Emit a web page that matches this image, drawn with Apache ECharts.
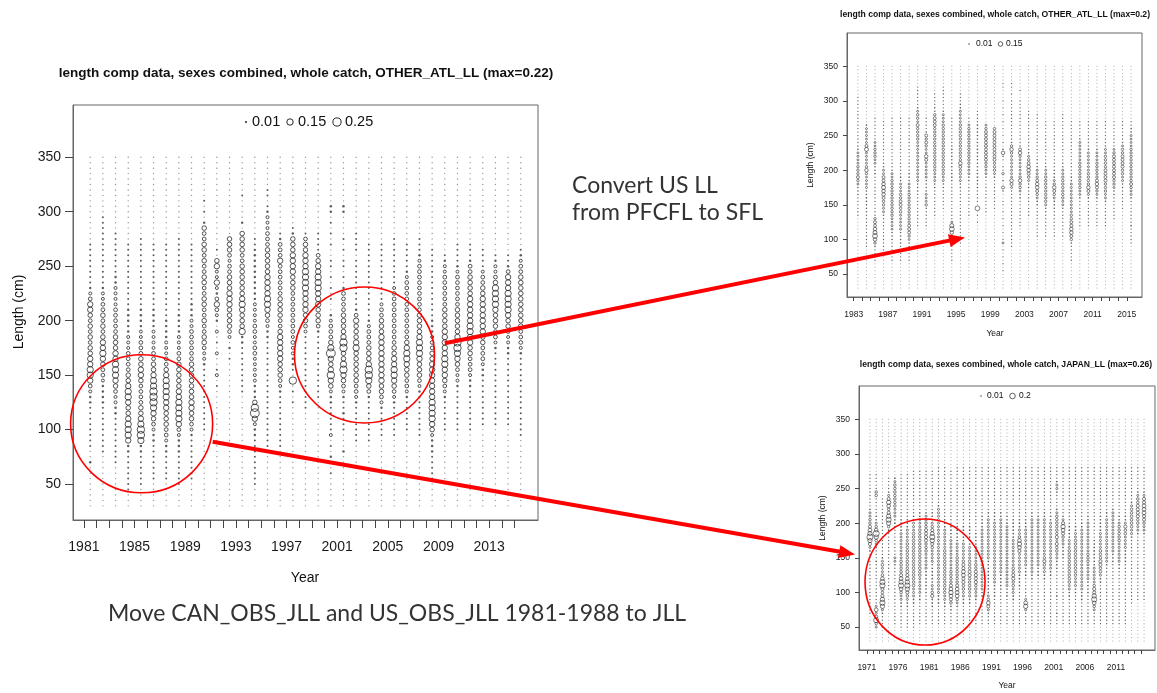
<!DOCTYPE html>
<html>
<head>
<meta charset="utf-8">
<script src="https://cdn.jsdelivr.net/npm/echarts@6/dist/echarts.min.js"></script>
<style>
  html, body { margin: 0; padding: 0; background: #fff; }
  #chart { width: 1157px; height: 693px; }
</style>
</head>
<body>
<div id="chart"></div>
<script>
// Length bins (cm), in the order the profile strings are written: top of the column (350) down to 30
const lengthBins = [350,345,340,335,330,325,320,315,310,305,300,295,290,285,280,275,270,265,260,255,
  250,245,240,235,230,225,220,215,210,205,200,195,190,185,180,175,170,165,160,155,
  150,145,140,135,130,125,120,115,110,105,100,95,90,85,80,75,70,65,60,55,50,45,40,35,30];

// Proportion code used in the profile strings ('.' = zero observations)
const proportionCode = { '.': 0, '1': 0.002, '2': 0.005, '3': 0.01, '4': 0.02, '5': 0.035,
  '6': 0.055, '7': 0.08, '8': 0.12, '9': 0.18 };

// ---- OTHER_ATL_LL, revised (max = 0.22) ----
const yearsOtherNew = [1981,1982,1983,1984,1985,1986,1987,1988,1989,1990,1991,1992,1993,1994,1995,1996,1997,1998,
  1999,2000,2001,2002,2003,2004,2005,2006,2007,2008,2009,2010,2011,2012,2013,2014,2015];
const profilesOtherNew = [
  ".......... ......1111 1111234665 4545455667 7643221111 1111..2... .....",
  ".......... .111111111 1111233445 4545667654 4322221111 11111..... .....",
  ".......... ....111111 1122333344 4445556677 7654332211 1111111... .....",
  ".......... ......1111 1111111122 2223334444 5567765567 7762211111 11...",
  ".......... .....11111 1111111122 2233444556 6544445567 8872211111 1....",
  ".......... ......1111 1111111122 2233334455 6778887654 3221111111 .....",
  ".......... ......1111 1111111111 2222333445 6777766555 4432211111 .....",
  ".......... .....11111 1111111112 2223334455 5556677776 4322211111 1....",
  ".......... ......1111 1111111222 3344444455 5555566554 3211111111 .....",
  "........1. 1.25445545 4455445544 5445543321 1111111111 1......... .....",
  ".......... .......1.5 6336324643 2.3.1.3..1 3.1....... .......... .....",
  ".......... .....55543 4455566655 5543.2.1.. .......... .......... .....",
  ".......1.. ..2.555544 5555556765 5572211111 1111...... .......... .....",
  ".......... .....11222 2222222333 3443344333 3322258963 2211111111 1....",
  "......11.1 2333444555 5566667765 4322111111 1111111111 1111...... .....",
  ".......... ....124446 4444445555 4456666655 5432111111 1111...... .....",
  ".......... ...1255566 6655544444 4443433221 .8.1.1.... .......... .....",
  ".......... ....145566 6777766665 5431111111 1111111... .......... .....",
  ".......... ....111145 6677766655 5421111111 11111..... .......... .....",
  ".........2 2.1.1.1..1 1.1.1.1..2 3444579656 8653221111 13.1.2..1. .....",
  ".........2 2....1.1.1 1.1.244445 5556885578 6543211211 1...2..... .....",
  ".......... ....1111.1 1111111124 6555675555 5544321111 111....... .....",
  ".......... ......1111 1111111111 2344455568 8754211111 111....... .....",
  ".......... ......1111 1111111344 5556666666 6655432111 11........ .....",
  ".......... .....11111 1111344444 4444455667 7654321111 11........ .....",
  ".......... ......1111 1234444444 4444567765 5443211111 1......... .....",
  ".......... .....11123 4444444445 5556777655 5432111111 11........ .....",
  ".......... .......111 1111111111 2223445566 6666677776 5322211111 .....",
  ".......... ........12 3344444455 5566666776 6543211111 1......... .....",
  ".......... ......1111 2344444455 5556887654 3321111111 1......... .....",
  ".......... ......1112 4455556666 6776655444 3221111111 1......... .....",
  ".......... .......111 1344556666 6665544432 2111111111 .......... .....",
  ".......... ........12 3345777765 5544321111 1111111111 .......... .....",
  ".......... ........11 2466677776 5543322111 1111111111 .......... .....",
  ".......... .......123 4455555555 5544432111 1111111111 11........ ....."
];
const yearLabelsOtherNew = [1981,1985,1989,1993,1997,2001,2005,2009,2013];

// ---- OTHER_ATL_LL, previous (max = 0.2) ----
const yearsOtherOld = [1983,1984,1985,1986,1987,1988,1989,1990,1991,1992,1993,1994,1995,1996,1997,1998,1999,
  2000,2001,2002,2003,2004,2005,2006,2007,2008,2009,2010,2011,2012,2013,2014,2015];
const profilesOtherOld = [
  ".........1 1111111111 1112233334 4454322211 1111...... .......... .....",
  ".......... .......233 3335733334 6433332222 2221111111 111....... .....",
  ".......... .....11111 1133444332 2211111111 1111455678 6421111... .....",
  ".......... ......1111 1111111122 3355676654 4332111111 1111...... .....",
  ".......... .....11111 1111111111 2334444444 4444333322 2111111... .....",
  ".......... .....11111 1111111111 1122333445 5443333322 2211111... .....",
  ".......... .....11111 1111111111 1222333444 4444445554 3211111... .....",
  "......1111 1123443544 4433333333 3333222111 1111111... .......... .....",
  ".......... .....11112 5454336533 3332222333 4211111... .......... .....",
  "........11 1122455544 4444444444 4333221111 1111...... .......... .....",
  "......1111 1112333444 4444444444 4433221111 11........ .......... .....",
  ".......... .....11111 1112222222 2222111111 1111137863 2111111... .....",
  "........11 1223333444 4444444465 4433221111 1111111111 11........ .....",
  ".......... .....11344 4444444443 3322111111 1111...... .......... .....",
  ".......... ...1111222 2222222222 2222221111 .8.1.1.... .......... .....",
  ".......... .......345 5555555544 3321111111 111....... .......... .....",
  ".......... ........45 5555555544 4321111111 11........ .......... .....",
  ".....11... 1.1.1.1.1. 1.1.2621.1 14.2.52..1 1.1.1.1.1. 13.1.1.1.1 .....",
  ".....11.1. 1111111111 1124643333 3336531111 1111111111 111....... .....",
  ".......1.. 1111111111 1112564333 3346443221 1111111... .......... .....",
  ".......... ...1111111 1111123456 6543221111 1111...... .......... .....",
  ".......... ....111111 1111111222 3345665432 2111111111 .......... .....",
  ".......... ......1111 1111111112 3344444444 3221111111 .......... .....",
  ".......... ......1111 1111111111 2223465432 2211111111 .......... .....",
  ".......... ....111111 1111111122 3344444443 3211111111 .......... .....",
  ".......... ......1111 1111111111 1122333333 3334455665 4211111... .....",
  ".......... ......1111 1233333344 4444443321 1111111... .......... .....",
  ".......... ......1111 1111233333 3444465321 1111111... .......... .....",
  ".......... ......1111 1111233344 4445654321 1111111... .......... .....",
  ".......... ......1111 1112334444 5555444332 1111111... .......... .....",
  ".......... ......1111 1111345555 5554432211 11111..... .......... .....",
  ".......... ......1111 1123445555 4433221111 11........ .......... .....",
  ".......... ......1122 3333444444 4444543321 1111112111 11........ ....."
];
const yearLabelsOtherOld = [1983,1987,1991,1995,1999,2003,2007,2011,2015];

// ---- JAPAN_LL (max = 0.26) ----
const yearsJapan = [1971,1972,1973,1974,1975,1976,1977,1978,1979,1980,1981,1982,1983,1984,1985,1986,1987,1988,
  1989,1990,1991,1992,1993,1994,1995,1996,1997,1998,1999,2000,2001,2002,2003,2004,2005,2006,2007,2008,2009,
  2010,2011,2012,2013,2014,2015];
const profilesJapan = [
  ".......... ......1111 1111112334 4567975321 1111111111 1111111... .....",
  ".......... ......1111 1441111122 3469743211 1211111111 1111363584 3....",
  ".......... .......... ...1111111 1111111111 2343346885 4578732111 1....",
  ".......... .......111 1235764578 7421111111 1111111111 .......... .....",
  ".......... .......234 4444443332 2111111111 3321111111 1111111111 .....",
  ".......... ......1111 1111111112 2223333333 3444456786 4332211111 1....",
  ".......... ......1111 1111111112 2233334444 4444556787 5432211111 1....",
  ".......... .....11111 1111111122 3334444444 4444444443 3322111111 1....",
  ".......... .....11111 1111111223 3344444444 4444443333 3221111111 .....",
  ".......... .....11111 1111111234 4455554443 3333222222 2111111111 .....",
  ".......... .....11111 1111111222 3456875433 3322222233 4522211111 .....",
  ".......... ....111111 1111123333 3333333333 3333333333 3222111111 .....",
  ".......... ....111111 1111111112 2233333344 4444444444 4332211111 .....",
  ".......... .....11111 1111111111 1222233333 3333444456 7654221111 .....",
  ".......... ....111111 1111111111 1222223333 4444444456 6643211111 .....",
  ".......... ....111111 1111111111 1222223333 3455665544 3322111111 .....",
  ".......... ....111111 1111111111 1222222333 3444554444 3322111111 .....",
  ".......... ....111111 1111111111 1112222333 3344555544 3321111111 .....",
  ".......... ....111111 1111111122 2233333333 3333333333 2211111111 .....",
  ".......... ....111111 1111111223 3333333333 3222222222 2346532111 .....",
  ".......... ....111111 1111111222 3333333333 3333333322 2211111111 .....",
  ".......... ....111111 1111111223 3333333333 3333322222 1111111111 .....",
  ".......... ....111111 1111111122 2333333333 3333333332 2211111111 .....",
  ".......... ....111111 1111111112 2222233333 3334455443 3221111111 .....",
  ".......... ....111111 1111111112 2233467653 3333322221 1111111111 .....",
  ".......... ....111111 1111111112 2233333333 3332221111 1136731111 .....",
  ".......... ....111111 1111111223 3333333333 3333322111 1111111111 .....",
  ".......... ....111111 1111111123 3333333333 3332221111 1111111111 .....",
  ".......... ....111111 1111111223 3333333333 4543322111 1111111111 .....",
  ".......... ....111111 1111111122 3333333333 3333221111 1111111111 .....",
  ".......... ....111123 3211112344 4444535443 3222111111 1211112111 .....",
  ".......... ....111111 1111111123 5765433222 2111111111 1111111111 .....",
  ".......... ....111111 1111111111 1222233344 4444444433 2211111111 .....",
  ".......... ....111111 1111111111 1223344444 4444443332 2111111111 .....",
  ".......... ....111111 1111111111 2233333333 3333333333 2221111111 .....",
  ".......... ....111111 1111111122 3333333334 4433333222 2111111111 .....",
  ".......... ....111111 1111111111 1111122222 2223333345 5786431111 .....",
  ".......... ....111111 1111111122 2223333344 4554432211 1111111111 .....",
  ".......... ....111111 1111111223 3333333333 3321111111 1111111111 .....",
  ".......... ....111111 1111112333 3333333332 2211111111 1111111111 .....",
  ".......... ....111111 1111111122 3444443333 3322111111 1111111111 .....",
  ".......... ....111111 1111111122 3544333322 2211111111 1111111111 .....",
  ".......... ....111111 1111234444 4433211111 1111111111 1111...... .....",
  ".......... ....111111 1234455554 4332111111 1111111111 111....... .....",
  ".......... ....111111 1235566655 4332111111 1111111111 111....... ....."
];
const yearLabelsJapan = [1971,1976,1981,1986,1991,1996,2001,2006,2011];

const lengthTicks = [50,100,150,200,250,300,350];

// ---------------------------------------------------------------------------
const RFONT = '"Liberation Sans", Arial, sans-serif';
const NOTE_FONT = 'Lato, "Open Sans", sans-serif';

// Split one panel's profiles into zero dots, small filled dots and open bubbles.
// Each column is drawn at the middle of its year (year + 0.5).
function decode(years, profiles) {
  const zero = [], small = [], ring = [];
  years.forEach((yr, i) => {
    const s = profiles[i].replace(/ /g, '');
    if (s.length !== lengthBins.length) console.warn('profile length', yr, s.length);
    for (let j = 0; j < lengthBins.length && j < s.length; j++) {
      const v = proportionCode[s[j]];
      const pt = [yr + 0.5, lengthBins[j], v];
      if (v === 0) zero.push(pt);
      else if (v <= 0.005) small.push(pt);
      else ring.push(pt);
    }
  });
  return { zero, small, ring };
}

const panels = [
  { years: yearsOtherNew, profiles: profilesOtherNew, labels: yearLabelsOtherNew,
    grid: { left: 73, top: 105, width: 465, height: 415 },
    k: 18, base: 1.2, zeroSize: 1.4, ringWidth: 0.95, tickFont: 14, tickLen: 8,
    xMargin: 20, yMargin: 12 },
  { years: yearsOtherOld, profiles: profilesOtherOld, labels: yearLabelsOtherOld,
    grid: { left: 847, top: 33, width: 295, height: 264 },
    k: 11.5, base: 0.8, zeroSize: 1.0, ringWidth: 0.7, tickFont: 8.5, tickLen: 4,
    xMargin: 13, yMargin: 9 },
  { years: yearsJapan, profiles: profilesJapan, labels: yearLabelsJapan,
    grid: { left: 859, top: 386, width: 296, height: 264 },
    k: 12.5, base: 0.8, zeroSize: 1.0, ringWidth: 0.7, tickFont: 8.5, tickLen: 4,
    xMargin: 13, yMargin: 9 }
];

const grids = [], xAxes = [], yAxes = [], series = [];
panels.forEach((p, g) => {
  const first = p.years[0] + 0.5, last = p.years[p.years.length - 1] + 0.5;
  const pad = (last - first) * 0.04;
  grids.push(Object.assign({ show: true, borderColor: '#666', borderWidth: 1,
    backgroundColor: 'transparent', containLabel: false }, p.grid));
  xAxes.push({
    gridIndex: g, type: 'value', min: first - pad, max: last + pad,
    axisLine: { show: true, onZero: false, lineStyle: { color: '#666', width: 1 } },
    splitLine: { show: false },
    axisTick: { show: true, inside: false, length: p.tickLen, customValues: p.years,
      lineStyle: { color: '#444', width: 1 } },
    axisLabel: { show: true, customValues: p.labels, formatter: v => String(Math.round(v)),
      fontSize: p.tickFont, fontFamily: RFONT, color: '#1a1a1a', margin: p.xMargin }
  });
  yAxes.push({
    gridIndex: g, type: 'value', min: 17, max: 398,
    axisLine: { show: true, onZero: false, lineStyle: { color: '#666', width: 1 } },
    splitLine: { show: false },
    axisTick: { show: true, inside: false, length: p.tickLen, customValues: lengthTicks,
      lineStyle: { color: '#444', width: 1 } },
    axisLabel: { show: true, customValues: lengthTicks, formatter: v => String(Math.round(v)),
      fontSize: p.tickFont, fontFamily: RFONT, color: '#1a1a1a', margin: p.yMargin }
  });
  const d = decode(p.years, p.profiles);
  const common = { type: 'scatter', xAxisIndex: g, yAxisIndex: g, animation: false,
    progressive: 0, silent: true, symbol: 'circle' };
  series.push(Object.assign({}, common, { data: d.zero, symbolSize: p.zeroSize,
    itemStyle: { color: '#7a7a7a' } }));
  series.push(Object.assign({}, common, { data: d.small,
    symbolSize: v => p.base + p.k * Math.sqrt(v[2]),
    itemStyle: { color: '#333' } }));
  series.push(Object.assign({}, common, { data: d.ring,
    symbolSize: v => p.base + p.k * Math.sqrt(v[2]),
    itemStyle: { color: 'rgba(0,0,0,0)', borderColor: '#1e1e1e', borderWidth: p.ringWidth } }));
});

const chart = echarts.init(document.getElementById('chart'), null, { renderer: 'canvas' });
chart.setOption({ animation: false, grid: grids, xAxis: xAxes, yAxis: yAxes, series: series });

// ---- titles, legends, axis names and notes ----
function txt(text, x, y, font, opts) {
  return { type: 'text', x: x, y: y, z: 50,
    style: Object.assign({ text: text, font: font, fill: '#111', align: 'center', verticalAlign: 'middle',
      textAlign: 'center', textVerticalAlign: 'middle' }, opts || {}) };
}
function rotTxt(text, x, y, font) {
  return { type: 'text', x: x, y: y, rotation: Math.PI / 2, z: 50,
    style: { text: text, font: font, fill: '#111', align: 'center', verticalAlign: 'middle',
      textAlign: 'center', textVerticalAlign: 'middle' } };
}
function legendDot(x, y, r) {
  return { type: 'circle', z: 50, shape: { cx: x, cy: y, r: r }, style: { fill: '#333' } };
}
function legendRing(x, y, r, w) {
  return { type: 'circle', z: 50, shape: { cx: x, cy: y, r: r },
    style: { fill: 'none', stroke: '#1e1e1e', lineWidth: w } };
}
const LEFT = { align: 'left', textAlign: 'left' };

const RED = '#ff0000';
function arrow(p0, p1, width, headLen, headHalf) {
  const dx = p1[0] - p0[0], dy = p1[1] - p0[1];
  const L = Math.sqrt(dx * dx + dy * dy), ux = dx / L, uy = dy / L;
  const bx = p1[0] - ux * headLen, by = p1[1] - uy * headLen;
  return [
    { type: 'line', z: 60, shape: { x1: p0[0], y1: p0[1], x2: bx + ux, y2: by + uy },
      style: { stroke: RED, lineWidth: width } },
    { type: 'polygon', z: 60, shape: { points: [[p1[0], p1[1]],
      [bx - uy * headHalf, by + ux * headHalf], [bx + uy * headHalf, by - ux * headHalf]] },
      style: { fill: RED } }
  ];
}
function ellipse(c, rx, ry) {
  return { type: 'circle', z: 60, x: c[0], y: c[1], scaleY: ry / rx,
    shape: { cx: 0, cy: 0, r: rx },
    style: { fill: 'none', stroke: RED, lineWidth: 1.6, strokeNoScale: true } };
}

const px = (g, pt) => chart.convertToPixel({ gridIndex: g }, pt);

const graphics = [
  // revised OTHER_ATL_LL panel
  txt('length comp data, sexes combined, whole catch, OTHER_ATL_LL (max=0.22)', 306, 73,
    'bold 13.5px ' + RFONT),
  legendDot(246, 122, 1.1), txt('0.01', 252, 122, '14.5px ' + RFONT, LEFT),
  legendRing(290, 122, 3.2, 0.95), txt('0.15', 298, 122, '14.5px ' + RFONT, LEFT),
  legendRing(337, 122, 4.1, 0.95), txt('0.25', 345, 122, '14.5px ' + RFONT, LEFT),
  txt('Year', 305, 578, '14px ' + RFONT),
  rotTxt('Length (cm)', 19, 312, '14px ' + RFONT),

  // previous OTHER_ATL_LL panel
  txt('length comp data, sexes combined, whole catch, OTHER_ATL_LL (max=0.2)', 995, 15,
    'bold 8.6px ' + RFONT),
  legendDot(969, 44, 0.7), txt('0.01', 976, 44, '8.5px ' + RFONT, LEFT),
  legendRing(1000.5, 44, 2.3, 0.7), txt('0.15', 1006, 44, '8.5px ' + RFONT, LEFT),
  txt('Year', 995, 334, '8.5px ' + RFONT),
  rotTxt('Length (cm)', 811, 165, '8.5px ' + RFONT),

  // JAPAN_LL panel
  txt('length comp data, sexes combined, whole catch, JAPAN_LL (max=0.26)', 1006, 365,
    'bold 8.6px ' + RFONT),
  legendDot(981, 396, 0.7), txt('0.01', 987, 396, '8.5px ' + RFONT, LEFT),
  legendRing(1012.5, 396, 2.8, 0.7), txt('0.2', 1019, 396, '8.5px ' + RFONT, LEFT),
  txt('Year', 1007, 686, '8.5px ' + RFONT),
  rotTxt('Length (cm)', 823, 518, '8.5px ' + RFONT),

  // notes
  txt('Convert US LL', 572, 186, '23px ' + NOTE_FONT, Object.assign({ fill: '#333' }, LEFT)),
  txt('from PFCFL to SFL', 572, 213, '23px ' + NOTE_FONT, Object.assign({ fill: '#333' }, LEFT)),
  txt('Move CAN_OBS_JLL and US_OBS_JLL 1981-1988 to JLL', 108, 614, '23px ' + NOTE_FONT,
    Object.assign({ fill: '#333' }, LEFT))
];

// red call-outs anchored on the panels' own axes
graphics.push(ellipse(px(0, [1985.56, 105.3]), 71, 69));
graphics.push(ellipse(px(0, [2003.16, 168.5]), 70, 68));
graphics.push(ellipse(px(2, [1980.34, 115.1]), 60, 63));
arrow(px(0, [2009.5, 179.2]), px(1, [1996.04, 103]), 4, 16, 6.5).forEach(e => graphics.push(e));
arrow(px(0, [1991.17, 88.9]), px(2, [1969.1, 155]), 4, 16, 6.5).forEach(e => graphics.push(e));

chart.setOption({ graphic: graphics });
</script>
</body>
</html>
